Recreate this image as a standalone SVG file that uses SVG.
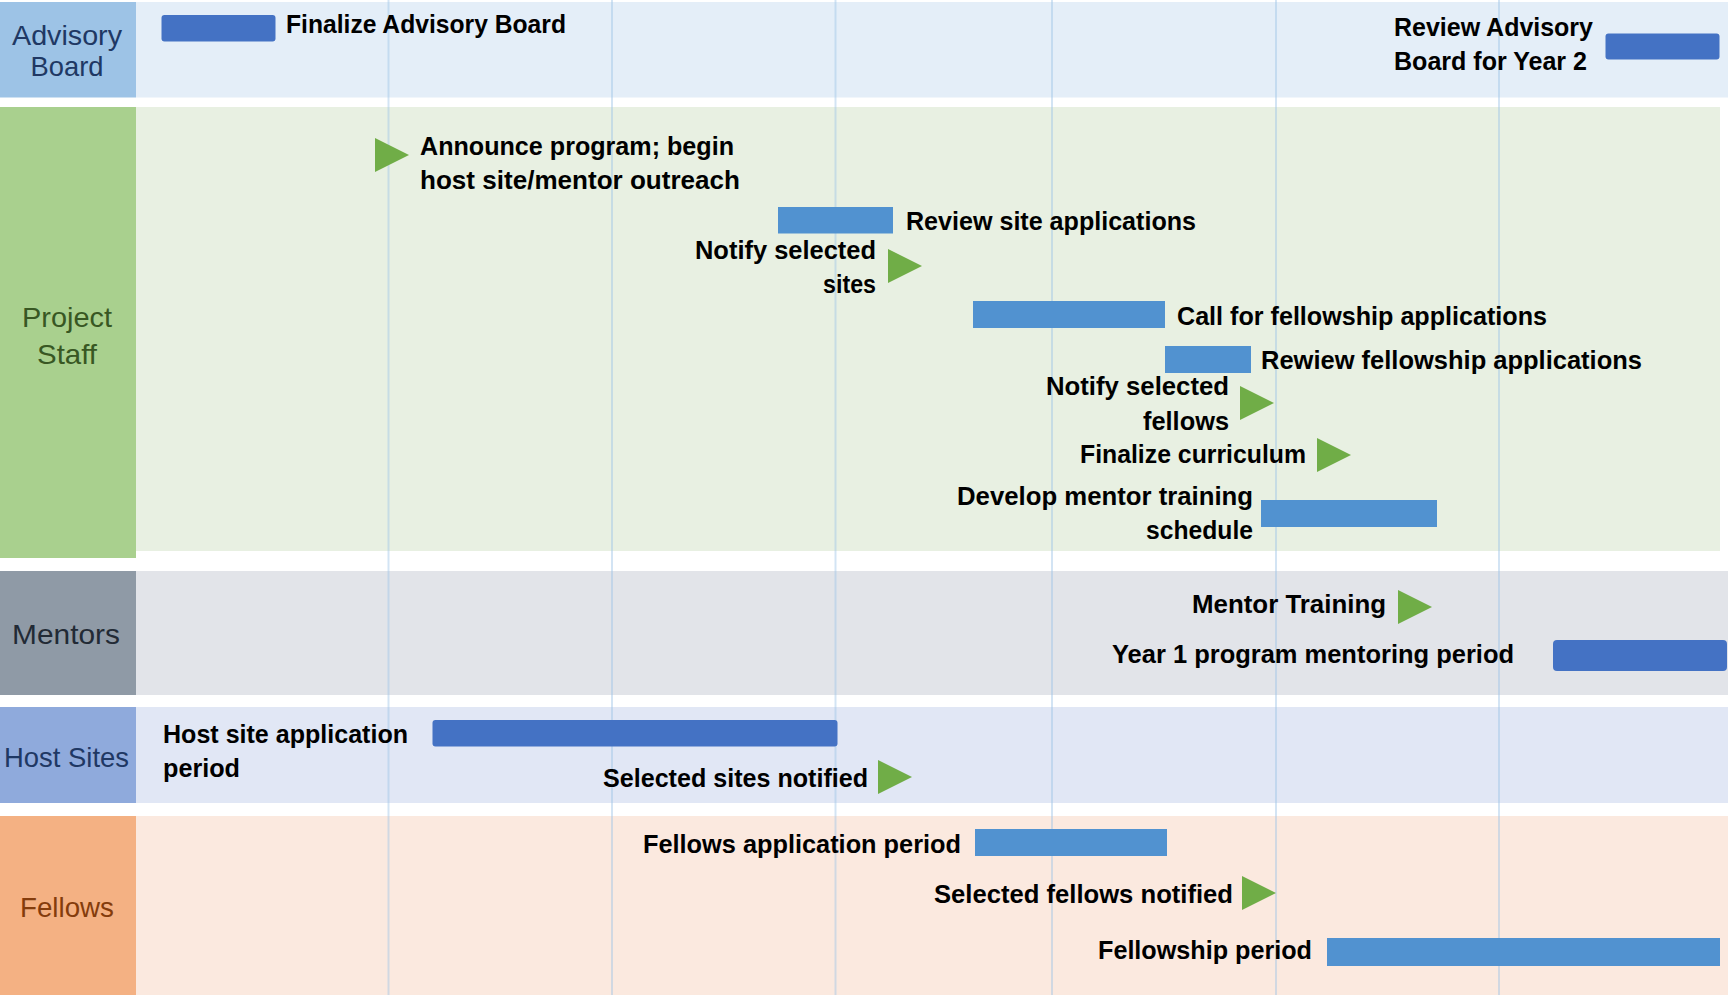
<svg xmlns="http://www.w3.org/2000/svg" width="1728" height="995" viewBox="0 0 1728 995">
  <style>
    .lbl { font-family: "Liberation Sans", Arial, sans-serif; font-size: 28px; text-anchor: middle; }
    .t { font-family: "Liberation Sans", Arial, sans-serif; font-weight: bold; font-size: 25px; fill: #000; }
    .end { text-anchor: end; }
    .bar-r { fill: #4472C4; }
    .bar { fill: #5192D0; }
    .ms { fill: #70AD47; }
    .grid line { stroke: #9DC3E6; stroke-width: 2; stroke-opacity: 0.45; }
  </style>
  <rect width="1728" height="995" fill="#FFFFFF"/>

  <!-- swimlane backgrounds and headers -->
  <g id="lane-advisory">
    <rect x="136" y="2" width="1592" height="95.5" fill="#E4EEF8"/>
    <rect x="0" y="2" width="136" height="95.5" fill="#9DC3E6"/>
    <text class="lbl" x="67" y="45" fill="#203864" textLength="110" lengthAdjust="spacingAndGlyphs">Advisory</text>
    <text class="lbl" x="67" y="76" fill="#203864" textLength="73" lengthAdjust="spacingAndGlyphs">Board</text>
  </g>
  <g id="lane-staff">
    <rect x="136" y="107" width="1584" height="444" fill="#E8F0E2"/>
    <rect x="0" y="107" width="136" height="451" fill="#A9D08E"/>
    <text class="lbl" x="67" y="327" fill="#385723" textLength="90" lengthAdjust="spacingAndGlyphs">Project</text>
    <text class="lbl" x="67" y="364" fill="#385723" textLength="60" lengthAdjust="spacingAndGlyphs">Staff</text>
  </g>
  <g id="lane-mentors">
    <rect x="136" y="571" width="1592" height="124" fill="#E2E4E9"/>
    <rect x="0" y="571" width="136" height="124" fill="#8F9AA6"/>
    <text class="lbl" x="66" y="644" fill="#222A35" textLength="108" lengthAdjust="spacingAndGlyphs">Mentors</text>
  </g>
  <g id="lane-hosts">
    <rect x="136" y="707" width="1592" height="96" fill="#E1E7F5"/>
    <rect x="0" y="707" width="136" height="96" fill="#8FAADC"/>
    <text class="lbl" x="66.5" y="767" fill="#1F3864" textLength="125" lengthAdjust="spacingAndGlyphs">Host Sites</text>
  </g>
  <g id="lane-fellows">
    <rect x="136" y="816" width="1592" height="179" fill="#FBE9DF"/>
    <rect x="0" y="816" width="136" height="179" fill="#F4B183"/>
    <text class="lbl" x="67" y="917" fill="#843C0C" textLength="94" lengthAdjust="spacingAndGlyphs">Fellows</text>
  </g>

  <!-- time grid -->
  <g id="grid" class="grid">
    <line x1="388.5" y1="0" x2="388.5" y2="995"/>
    <line x1="612" y1="0" x2="612" y2="995"/>
    <line x1="835.5" y1="0" x2="835.5" y2="995"/>
    <line x1="1052" y1="0" x2="1052" y2="995"/>
    <line x1="1276" y1="0" x2="1276" y2="995"/>
    <line x1="1499" y1="0" x2="1499" y2="995"/>
  </g>

  <!-- connectors: none in this chart -->
  <g id="connectors"></g>

  <!-- Advisory Board tasks -->
  <g id="finalize-board">
    <rect class="bar-r" x="161.5" y="15" width="114" height="26.5" rx="3"/>
    <text class="t" x="286" y="33" textLength="280" lengthAdjust="spacingAndGlyphs">Finalize Advisory Board</text>
  </g>
  <g id="review-board">
    <text class="t" x="1394" y="36" textLength="199" lengthAdjust="spacingAndGlyphs">Review Advisory</text>
    <text class="t" x="1394" y="70" textLength="193" lengthAdjust="spacingAndGlyphs">Board for Year 2</text>
    <rect class="bar-r" x="1605.5" y="33.5" width="114" height="26" rx="3"/>
  </g>

  <!-- Project Staff tasks -->
  <g id="announce">
    <polygon class="ms" points="375,138 409,155 375,172"/>
    <text class="t" x="420" y="155" textLength="314" lengthAdjust="spacingAndGlyphs">Announce program; begin</text>
    <text class="t" x="420" y="189" textLength="320" lengthAdjust="spacingAndGlyphs">host site/mentor outreach</text>
  </g>
  <g id="review-sites">
    <rect class="bar" x="778" y="207" width="115" height="26.5"/>
    <text class="t" x="906" y="230" textLength="290" lengthAdjust="spacingAndGlyphs">Review site applications</text>
  </g>
  <g id="notify-sites">
    <text class="t end" x="876" y="259" textLength="181" lengthAdjust="spacingAndGlyphs">Notify selected</text>
    <text class="t end" x="876" y="293" textLength="53" lengthAdjust="spacingAndGlyphs">sites</text>
    <polygon class="ms" points="888,249 922,266 888,283"/>
  </g>
  <g id="call-fellows">
    <rect class="bar" x="973" y="301" width="192" height="27"/>
    <text class="t" x="1177" y="325" textLength="370" lengthAdjust="spacingAndGlyphs">Call for fellowship applications</text>
  </g>
  <g id="review-fellows">
    <rect class="bar" x="1165" y="346" width="86" height="27"/>
    <text class="t" x="1261" y="369" textLength="381" lengthAdjust="spacingAndGlyphs">Rewiew fellowship applications</text>
  </g>
  <g id="notify-fellows">
    <text class="t end" x="1229" y="395" textLength="183" lengthAdjust="spacingAndGlyphs">Notify selected</text>
    <text class="t end" x="1229" y="430" textLength="86" lengthAdjust="spacingAndGlyphs">fellows</text>
    <polygon class="ms" points="1240,386 1274,403 1240,420"/>
  </g>
  <g id="finalize-curriculum">
    <text class="t end" x="1306" y="463" textLength="226" lengthAdjust="spacingAndGlyphs">Finalize curriculum</text>
    <polygon class="ms" points="1317,438 1351,455 1317,472"/>
  </g>
  <g id="mentor-schedule">
    <text class="t end" x="1253" y="505" textLength="296" lengthAdjust="spacingAndGlyphs">Develop mentor training</text>
    <text class="t end" x="1253" y="539" textLength="107" lengthAdjust="spacingAndGlyphs">schedule</text>
    <rect class="bar" x="1261" y="500" width="176" height="27"/>
  </g>

  <!-- Mentors tasks -->
  <g id="mentor-training">
    <text class="t end" x="1386" y="613" textLength="194" lengthAdjust="spacingAndGlyphs">Mentor Training</text>
    <polygon class="ms" points="1398,590 1432,607 1398,624"/>
  </g>
  <g id="mentoring-period">
    <text class="t" x="1112" y="663" textLength="402" lengthAdjust="spacingAndGlyphs">Year 1 program mentoring period</text>
    <rect class="bar-r" x="1553" y="640" width="174" height="31" rx="4"/>
  </g>

  <!-- Host Sites tasks -->
  <g id="host-application">
    <text class="t" x="163" y="743" textLength="245" lengthAdjust="spacingAndGlyphs">Host site application</text>
    <text class="t" x="163" y="777" textLength="77" lengthAdjust="spacingAndGlyphs">period</text>
    <rect class="bar-r" x="432.5" y="720" width="405" height="26.5" rx="3"/>
  </g>
  <g id="sites-notified">
    <text class="t" x="603" y="787" textLength="265" lengthAdjust="spacingAndGlyphs">Selected sites notified</text>
    <polygon class="ms" points="878,760 912,777 878,794"/>
  </g>

  <!-- Fellows tasks -->
  <g id="fellows-application">
    <text class="t" x="643" y="853" textLength="318" lengthAdjust="spacingAndGlyphs">Fellows application period</text>
    <rect class="bar" x="975" y="829" width="192" height="27"/>
  </g>
  <g id="fellows-notified">
    <text class="t" x="934" y="903" textLength="299" lengthAdjust="spacingAndGlyphs">Selected fellows notified</text>
    <polygon class="ms" points="1242,876 1276,893 1242,910"/>
  </g>
  <g id="fellowship-period">
    <text class="t" x="1098" y="959" textLength="214" lengthAdjust="spacingAndGlyphs">Fellowship period</text>
    <rect class="bar" x="1327" y="938" width="393" height="28"/>
  </g>
</svg>
